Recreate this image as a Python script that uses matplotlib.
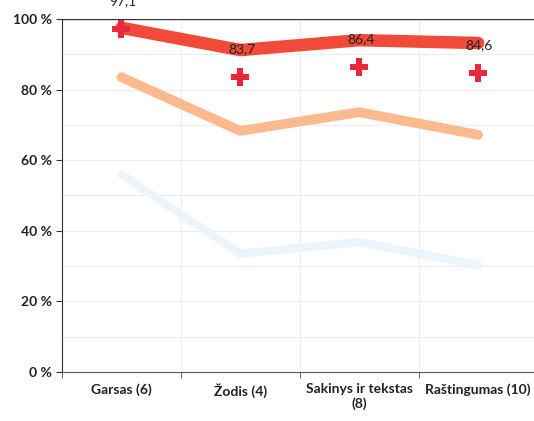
import matplotlib.pyplot as plt
import numpy as np

plt.rcParams['font.family'] = ['Lato', 'DejaVu Sans']

categories = ['Garsas (6)', 'Žodis (4)', 'Sakinys ir tekstas\n(8)', 'Raštingumas (10)']
red_line = [97.5, 91.2, 94.0, 93.2]
orange_line = [83.5, 68.3, 73.6, 67.2]
blue_line = [56.0, 33.5, 36.8, 30.3]
marks = [97.1, 83.7, 86.4, 84.6]

x = np.arange(len(categories))

fig = plt.figure(figsize=(5.34, 4.21), dpi=100)
ax = fig.add_axes([62 / 534, 1 - 372 / 421, 472 / 534, 353 / 421])

# faint grid every 10 %
for v in range(10, 100, 10):
    ax.axhline(v, color='#ededed', lw=0.8, zorder=0)
for b in [0.5, 1.5, 2.5]:
    ax.axvline(b, color='#ededed', lw=0.8, zorder=0)
ax.axhline(100, color='#333333', lw=1.0, zorder=1)

ax.plot(x, blue_line, color='#ebf5fa', lw=6, solid_capstyle='round', zorder=2)
ax.plot(x, orange_line, color='#fbba8e', lw=7, solid_capstyle='round', zorder=3)
ax.plot(x, red_line, color='#f24a38', lw=9, solid_capstyle='round', zorder=4)
ax.plot(x, marks, ls='none', marker='P', markersize=13, color='#e8283f',
        markeredgewidth=0, zorder=5)

for xi, v in zip(x, marks):
    ax.annotate(f'{v:.1f}'.replace('.', ','), (xi, v), xytext=(1, 20),
                textcoords='offset points', ha='center', va='center',
                fontsize=10, color='#222222', annotation_clip=False, zorder=6)

ax.set_xlim(-0.5, 3.47)
ax.set_ylim(0, 100)
ax.set_yticks(range(0, 101, 20))
ax.set_yticklabels([f'{v} %' for v in range(0, 101, 20)], fontsize=10, fontweight='bold',
                   color='#222222')
ax.set_xticks(x)
ax.set_xticklabels(categories, fontsize=10, fontweight='bold', color='#222222')
ax.tick_params(axis='x', length=0, pad=8)
ax.tick_params(axis='y', length=4, direction='out', color='#333333')
ax.set_xticks([-0.5, 0.5, 1.5, 2.5], minor=True)
ax.tick_params(axis='x', which='minor', length=4, direction='out', color='#555555')

for s in ['top', 'right']:
    ax.spines[s].set_visible(False)
ax.spines['left'].set_color('#333333')
ax.spines['bottom'].set_color('#555555')

plt.savefig('out.png', dpi=100)
